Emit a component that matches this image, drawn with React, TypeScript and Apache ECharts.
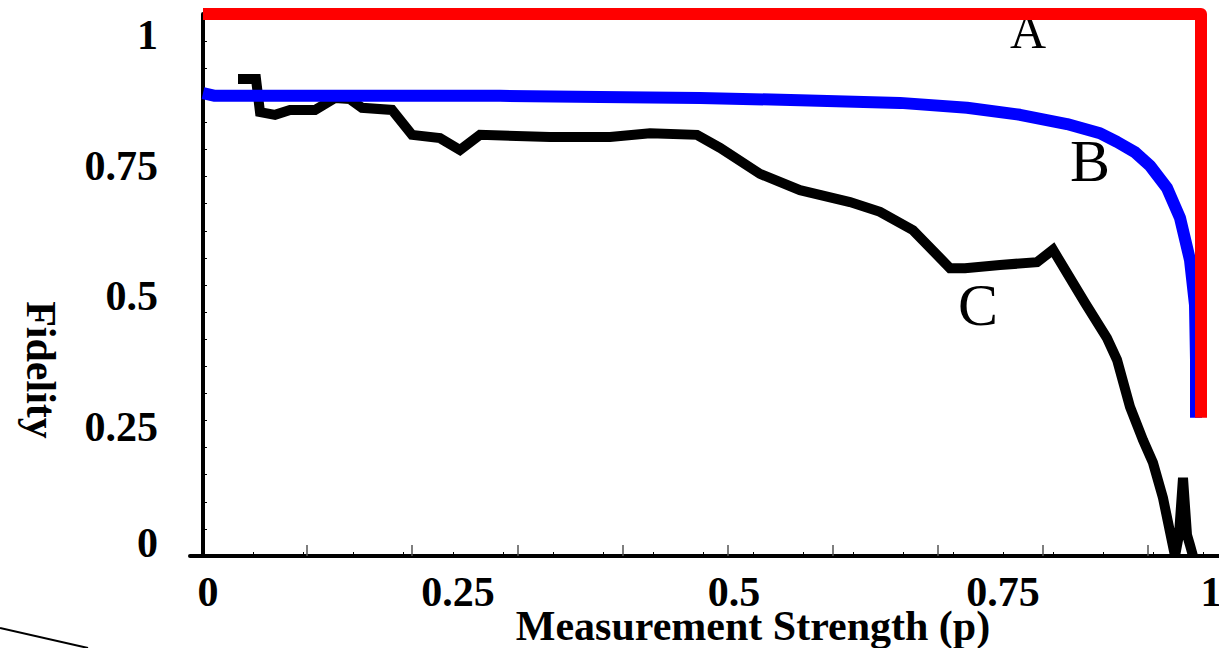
import React, { useEffect, useRef } from "react";
import * as echarts from "echarts";

// Tick labels and where the figure prints them (on the data scale)
const xLabels = ["0", "0.25", "0.5", "0.75", "1"];
const xLabelAt = [0.005, 0.255, 0.531, 0.8, 1.008];
const yLabels = ["0", "0.25", "0.5", "0.75", "1"];
const yLabelAt = [0.024, 0.238, 0.48, 0.72, 0.961];

// Small ticks on the data axis, and the longer grey ticks of the figure
const xSmallTicks = [0.05, 0.1, 0.15, 0.2, 0.25, 0.3, 0.35, 0.4, 0.45, 0.5, 0.55, 0.6, 0.65, 0.7, 0.75, 0.8, 0.85, 0.9, 0.95, 1.0];
const xLongTicks = [0.1, 0.2, 0.3, 0.4, 0.5, 0.6, 0.7, 0.8, 0.9];

// Curve A (red)
const curveA: [number, number][] = [
  [0, 1],
  [0.998, 1],
  [0.998, 0.255],
];

// Curve B (blue)
const curveB: [number, number][] = [
  [0, 0.854], [0.012, 0.849], [0.197, 0.849], [0.297, 0.849], [0.397, 0.847],
  [0.497, 0.845], [0.597, 0.841], [0.697, 0.836], [0.764, 0.827], [0.817, 0.814],
  [0.864, 0.797], [0.897, 0.78], [0.914, 0.764], [0.932, 0.745], [0.947, 0.72],
  [0.964, 0.679], [0.977, 0.624], [0.987, 0.546], [0.992, 0.463], [0.993, 0.362],
  [0.993, 0.255],
];

// Curve C (black)
const curveC: [number, number][] = [
  [0.035, 0.88], [0.053, 0.88], [0.057, 0.819], [0.072, 0.814], [0.087, 0.823],
  [0.112, 0.823], [0.132, 0.845], [0.147, 0.843], [0.159, 0.827], [0.189, 0.823],
  [0.209, 0.777], [0.237, 0.771], [0.257, 0.749], [0.277, 0.777], [0.347, 0.773],
  [0.407, 0.773], [0.447, 0.78], [0.494, 0.777], [0.517, 0.753], [0.557, 0.705],
  [0.597, 0.675], [0.647, 0.653], [0.677, 0.635], [0.71, 0.601], [0.747, 0.531],
  [0.762, 0.531], [0.797, 0.537], [0.834, 0.542], [0.85, 0.565], [0.882, 0.467],
  [0.904, 0.402], [0.914, 0.362], [0.927, 0.275], [0.94, 0.214], [0.95, 0.172],
  [0.96, 0.107], [0.972, 0], [0.976, 0.039], [0.98, 0.144], [0.984, 0.039],
  [0.987, 0.02], [0.99, 0],
];

const FONT = '"Liberation Serif", "Times New Roman", serif';

function nearestLabel(v: number, at: number[], labels: string[]) {
  let best = 0;
  at.forEach((p, i) => {
    if (Math.abs(p - v) < Math.abs(at[best] - v)) best = i;
  });
  return labels[best];
}

export default function App() {
  const ref = useRef<HTMLDivElement>(null);

  useEffect(() => {
    if (!ref.current) return;
    const chart = echarts.init(ref.current, null, { renderer: "svg" });
    const labelStyle = {
      fontFamily: FONT,
      fontSize: 42,
      fontWeight: "bold" as const,
      color: "#000",
    };
    chart.setOption({
      animation: false,
      backgroundColor: "#fff",
      grid: {
        left: 190,
        right: 0,
        top: 14,
        bottom: 92,
        containLabel: false,
        outerBoundsMode: "none",
      },
      xAxis: [
        {
          type: "value",
          min: -0.013,
          max: 1.016,
          position: "bottom",
          name: "Measurement Strength (p)",
          nameLocation: "middle",
          nameGap: 49,
          nameMoveOverlap: false,
          nameTextStyle: { ...labelStyle, padding: [0, 0, 0, 97] },
          axisLine: { show: true, onZero: false, lineStyle: { color: "#000", width: 4 } },
          axisTick: {
            show: true,
            inside: true,
            length: 4,
            customValues: xSmallTicks,
            lineStyle: { color: "#000", width: 1 },
          },
          axisLabel: {
            show: true,
            customValues: xLabelAt,
            margin: 15,
            formatter: (v: number) => nearestLabel(v, xLabelAt, xLabels),
            ...labelStyle,
          },
          splitLine: { show: false },
        },
        {
          type: "value",
          min: -0.0114,
          max: 0.9676,
          position: "bottom",
          axisLine: { show: false, onZero: false },
          axisTick: {
            show: true,
            inside: true,
            length: 11,
            customValues: xLongTicks,
            lineStyle: { color: "#555", width: 1.5 },
          },
          axisLabel: { show: false },
          splitLine: { show: false },
        },
      ],
      yAxis: {
        type: "value",
        min: 0,
        max: 1,
        interval: 0.05,
        name: "Fidelity",
        nameLocation: "middle",
        nameRotate: -90,
        nameGap: 128,
        nameMoveOverlap: false,
        nameTextStyle: { ...labelStyle, padding: [0, 0, 0, 170] },
        axisLine: { show: true, onZero: true, onZeroAxisIndex: 0, lineStyle: { color: "#000", width: 4 } },
        axisTick: { show: true, inside: true, length: 4, lineStyle: { color: "#000", width: 1 } },
        axisLabel: {
          show: true,
          customValues: yLabelAt,
          margin: 32,
          formatter: (v: number) => nearestLabel(v, yLabelAt, yLabels),
          ...labelStyle,
        },
        splitLine: { show: false },
      },
      series: [
        {
          name: "C",
          type: "line",
          data: curveC,
          symbol: "none",
          clip: false,
          silent: true,
          z: 2,
          lineStyle: { color: "#000", width: 10, join: "miter" },
        },
        {
          name: "B",
          type: "line",
          data: curveB,
          symbol: "none",
          clip: false,
          silent: true,
          z: 3,
          lineStyle: { color: "#0000ff", width: 12, join: "round" },
        },
        {
          name: "A",
          type: "line",
          data: curveA,
          symbol: "none",
          clip: false,
          silent: true,
          z: 4,
          lineStyle: { color: "#ff0000", width: 12, join: "round", cap: "butt" },
        },
      ],
      graphic: [
        {
          type: "text",
          z: 0,
          style: { x: 1028, y: 31, text: "A", font: `50px ${FONT}`, fill: "#000", align: "center", verticalAlign: "middle" },
        },
        {
          type: "text",
          z: 0,
          style: { x: 1090, y: 161, text: "B", font: `60px ${FONT}`, fill: "#000", align: "center", verticalAlign: "middle" },
        },
        {
          type: "text",
          z: 0,
          style: { x: 978, y: 305, text: "C", font: `60px ${FONT}`, fill: "#000", align: "center", verticalAlign: "middle" },
        },
        {
          type: "line",
          z: 0,
          shape: { x1: 0, y1: 628, x2: 88, y2: 648 },
          style: { stroke: "#000", lineWidth: 2 },
        },
      ],
    });
    return () => chart.dispose();
  }, []);

  return (
    <div
      ref={ref}
      style={{ position: "fixed", left: 0, top: 0, width: 1219, height: 648, background: "#fff" }}
    />
  );
}
